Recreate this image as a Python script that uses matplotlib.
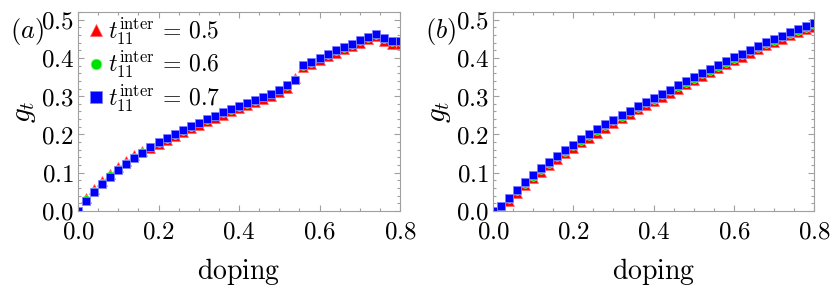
import matplotlib
matplotlib.use("Agg")
from matplotlib import pyplot as plt
from matplotlib.ticker import MultipleLocator, FuncFormatter

plt.rcParams["mathtext.fontset"] = "cm"
plt.rcParams["font.family"] = "DejaVu Serif"

doping = [0.00, 0.02, 0.04, 0.06, 0.08, 0.10, 0.12, 0.14, 0.16, 0.18,
          0.20, 0.22, 0.24, 0.26, 0.28, 0.30, 0.32, 0.34, 0.36, 0.38,
          0.40, 0.42, 0.44, 0.46, 0.48, 0.50, 0.52, 0.54, 0.56, 0.58,
          0.60, 0.62, 0.64, 0.66, 0.68, 0.70, 0.72, 0.74, 0.76, 0.78, 0.80]

# panel (a)
gt_a_05 = [0, .034, .057, .078, .097, .114, .130, .145, .156, .164,
           .174, .185, .195, .206, .216, .225, .234, .243, .252, .261,
           .268, .276, .284, .293, .301, .311, .322, .347, .375, .384,
           .395, .404, .414, .423, .431, .440, .449, .457, .445, .437, .437]
gt_a_06 = [0, .030, .053, .074, .093, .110, .126, .142, .155, .166,
           .177, .189, .199, .210, .220, .229, .238, .247, .256, .265,
           .272, .280, .288, .297, .305, .315, .326, .345, .379, .388,
           .399, .408, .418, .427, .435, .444, .453, .461, .449, .441, .441]
gt_a_07 = [0, .026, .049, .070, .089, .106, .122, .138, .152, .166,
           .179, .191, .201, .212, .222, .231, .240, .249, .258, .267,
           .274, .282, .290, .299, .307, .317, .328, .341, .381, .390,
           .401, .410, .420, .429, .437, .446, .455, .463, .451, .443, .443]

# panel (b)
gt_b_05 = [0, .006, .026, .047, .067, .086, .103, .119, .136, .151,
           .165, .179, .192, .205, .218, .231, .242, .254, .266, .277,
           .287, .298, .309, .320, .331, .341, .353, .363, .373, .383,
           .394, .403, .413, .423, .433, .441, .450, .459, .467, .475, .482]
gt_b_06 = [0, .010, .030, .051, .071, .090, .107, .123, .140, .155,
           .169, .183, .196, .209, .222, .235, .246, .258, .270, .281,
           .291, .302, .313, .324, .335, .345, .357, .367, .377, .387,
           .398, .407, .417, .427, .437, .445, .454, .463, .471, .479, .486]
gt_b_07 = [0, .013, .034, .055, .075, .094, .111, .127, .144, .159,
           .173, .187, .200, .213, .226, .239, .250, .262, .274, .285,
           .295, .306, .317, .328, .339, .349, .361, .371, .381, .391,
           .402, .411, .421, .431, .441, .449, .458, .467, .475, .483, .490]

labels = [r"$t_{11}^{\mathrm{inter}}\,=\,0.5$",
          r"$t_{11}^{\mathrm{inter}}\,=\,0.6$",
          r"$t_{11}^{\mathrm{inter}}\,=\,0.7$"]

fig = plt.figure(figsize=(8.3, 2.93), dpi=100)
ax_a = fig.add_axes([0.094, 0.280, 0.388, 0.679])
ax_b = fig.add_axes([0.594, 0.280, 0.387, 0.679])

frame = "#a0a0a0"
fmt = FuncFormatter(lambda v, p: "$%.1f$" % v)

for ax, series in [(ax_a, (gt_a_05, gt_a_06, gt_a_07)),
                   (ax_b, (gt_b_05, gt_b_06, gt_b_07))]:
    ax.plot(doping, series[0], ls="none", marker="^", ms=6.5, color="#ff0000",
            mec="#ff6060", mew=0.5, label=labels[0])
    ax.plot(doping, series[1], ls="none", marker="o", ms=5.5, color="#00e000",
            mec="#70ff70", mew=0.5, label=labels[1])
    ax.plot(doping, series[2], ls="none", marker="s", ms=6, color="#0000ff",
            mec="#8080ff", mew=0.6, label=labels[2])
    ax.set_xlim(0, 0.8)
    ax.set_ylim(0, 0.52)
    ax.xaxis.set_major_locator(MultipleLocator(0.2))
    ax.xaxis.set_minor_locator(MultipleLocator(0.05))
    ax.yaxis.set_major_locator(MultipleLocator(0.1))
    ax.yaxis.set_minor_locator(MultipleLocator(0.02))
    ax.xaxis.set_major_formatter(fmt)
    ax.yaxis.set_major_formatter(fmt)
    ax.tick_params(which="both", direction="in", top=True, right=True,
                   color=frame, labelsize=18, width=0.8)
    ax.tick_params(which="major", length=4)
    ax.tick_params(which="minor", length=2)
    ax.tick_params(axis="x", pad=7)
    ax.tick_params(axis="y", pad=3)
    for s in ax.spines.values():
        s.set_color(frame)
        s.set_linewidth(0.8)
    ax.set_xlabel(r"$\mathrm{doping}$", fontsize=20, labelpad=9)
    ax.set_ylabel(r"$g_t$", fontsize=21, labelpad=2)

ax_a.legend(loc="upper left", frameon=False, fontsize=17, handletextpad=0.0,
            handlelength=1.0, borderaxespad=0.0, labelspacing=0.1,
            bbox_to_anchor=(-0.01, 1.03), markerscale=1.4)

fig.text(0.012, 0.87, r"$(a)$", fontsize=19)
fig.text(0.512, 0.87, r"$(b)$", fontsize=19)

fig.savefig("out.png", dpi=100)
